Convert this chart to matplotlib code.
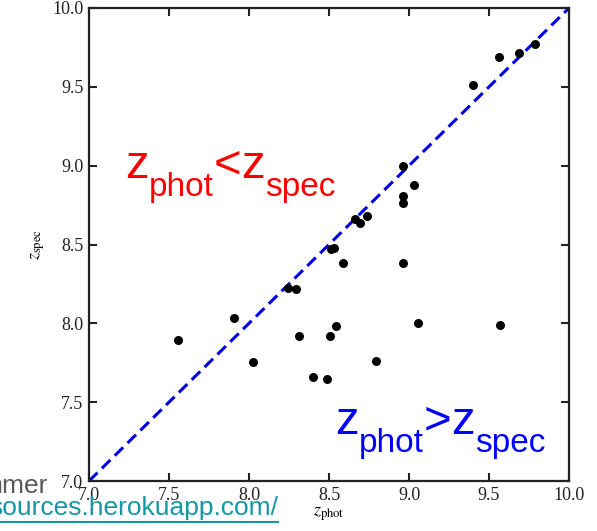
import matplotlib.pyplot as plt
from matplotlib.lines import Line2D

# photometric vs spectroscopic redshifts
z_phot = [7.556, 7.906, 8.025, 8.244, 8.294, 8.313, 8.40, 8.488, 8.506, 8.544,
          8.794, 9.056, 9.569, 8.51, 8.53, 8.589, 8.96, 8.663, 8.694, 8.738,
          8.96, 9.033, 8.96, 8.96, 9.40, 9.564, 9.685, 9.79]
z_spec = [7.894, 8.034, 7.755, 8.224, 8.217, 7.919, 7.66, 7.647, 7.919, 7.983,
          7.76, 8.0, 7.99, 8.47, 8.48, 8.38, 8.38, 8.661, 8.634, 8.678,
          8.997, 8.877, 8.807, 8.761, 9.511, 9.69, 9.716, 9.771]
ticks = [7.0, 7.5, 8.0, 8.5, 9.0, 9.5, 10.0]
lims = [7.0, 10.0]

W, H = 597, 531
fig = plt.figure(figsize=(W / 100, H / 100), dpi=100)
ax = fig.add_axes([89/W, 50/H, 480/W, 473/H])

ax.plot(lims, lims, color='#0000e6', lw=2.2, dashes=(3.9, 2.0), zorder=2)
ax.scatter(z_phot, z_spec, s=42, color='black', zorder=3, linewidths=0)

ax.set_xlim(lims)
ax.set_ylim(lims)
ax.set_xticks(ticks)
ax.set_yticks(ticks)
ax.set_xticklabels(['%.1f' % t for t in ticks], fontfamily='Liberation Serif', fontsize=13)
ax.set_yticklabels(['%.1f' % t for t in ticks], fontfamily='Liberation Serif', fontsize=13)
ax.tick_params(direction='in', length=6, width=1.5, top=True, right=True,
               pad=4, colors='#222222')
for sp in ax.spines.values():
    sp.set_linewidth(1.6)
    sp.set_color('#222222')

ax.set_xlabel(r'$z_{\rm phot}$', fontsize=13, math_fontfamily='stix', labelpad=1)
ax.set_ylabel(r'$z_{\rm spec}$', fontsize=13, math_fontfamily='stix', labelpad=4)

renderer = fig.canvas.get_renderer()


def put_pieces(x, y, pieces, color):
    # write text pieces one after another, y is the baseline in pixels from top
    for s, size, dy in pieces:
        t = fig.text(x / W, 1 - (y + dy) / H, s, color=color, fontsize=size,
                     fontfamily='Liberation Sans', va='baseline')
        x = t.get_window_extent(renderer=renderer).x1


big, small, drop = 34, 24, 18
put_pieces(125, 178, [('z', big, 0), ('phot', small, drop), ('<', big, 0),
                      ('z', big, 0), ('spec', small, drop)], '#ff0000')
put_pieces(335, 434, [('z', big, 0), ('phot', small, drop), ('>', big, 0),
                      ('z', big, 0), ('spec', small, drop)], '#0000ff')

# slide leftovers
fig.text(48/W, 1 - 493/H, 'mmer', color='#595959', fontsize=19,
         fontfamily='Liberation Sans', ha='right', va='baseline')
fig.text(278/W, 1 - 515/H, 'sources.herokuapp.com/', color='#1597a6', fontsize=19,
         fontfamily='Liberation Sans', ha='right', va='baseline')
fig.add_artist(Line2D([0, 278/W], [1 - 522/H, 1 - 522/H], color='#1597a6', lw=1.5))

fig.savefig('out.png', dpi=100)
